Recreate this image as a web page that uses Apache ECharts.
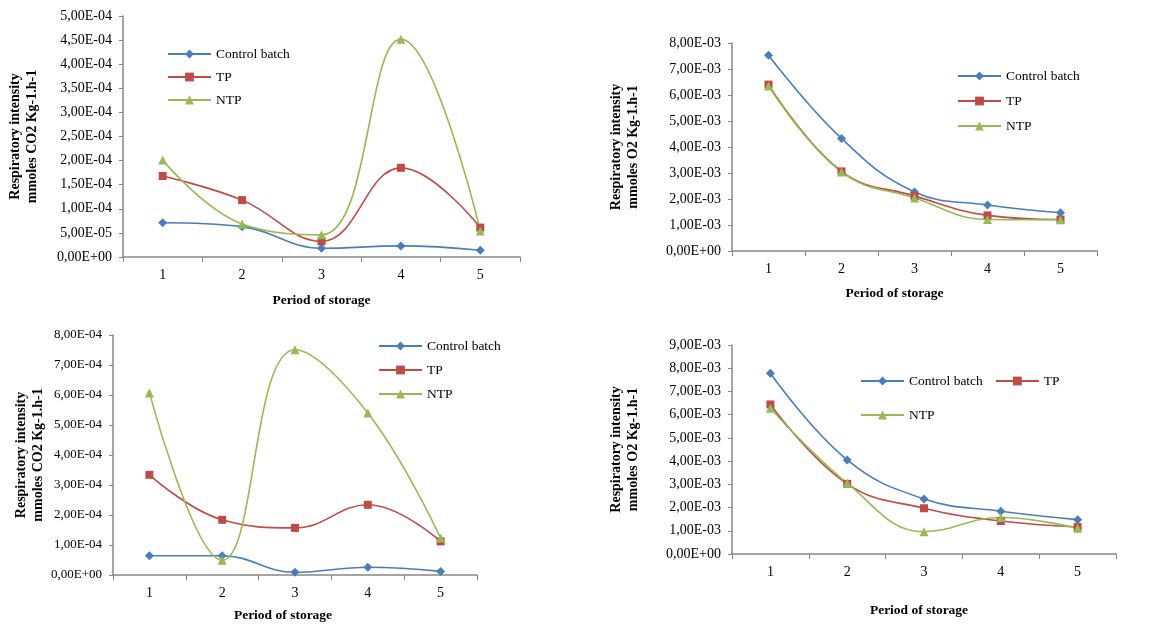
<!DOCTYPE html>
<html>
<head>
<meta charset="utf-8">
<script src="https://cdn.jsdelivr.net/npm/echarts@6/dist/echarts.min.js"></script>
<style>html,body{margin:0;padding:0;background:#fff}#c{width:1175px;height:625px}</style>
</head>
<body>
<div id="c"></div>
<script>
const categories = ['1', '2', '3', '4', '5'];
const seriesNames = ['Control batch', 'TP', 'NTP'];

const co2A_control = [7.1e-5, 6.3e-5, 1.8e-5, 2.3e-5, 1.4e-5];
const co2A_tp      = [1.68e-4, 1.18e-4, 3.25e-5, 1.85e-4, 6.1e-5];
const co2A_ntp     = [2.01e-4, 6.85e-5, 4.6e-5, 4.52e-4, 5.4e-5];

const o2A_control  = [7.53e-3, 4.33e-3, 2.27e-3, 1.77e-3, 1.47e-3];
const o2A_tp       = [6.40e-3, 3.06e-3, 2.12e-3, 1.37e-3, 1.21e-3];
const o2A_ntp      = [6.35e-3, 3.04e-3, 2.04e-3, 1.21e-3, 1.20e-3];

const co2B_control = [6.4e-5, 6.4e-5, 0.9e-5, 2.6e-5, 1.2e-5];
const co2B_tp      = [3.34e-4, 1.84e-4, 1.57e-4, 2.34e-4, 1.12e-4];
const co2B_ntp     = [6.07e-4, 4.9e-5, 7.51e-4, 5.40e-4, 1.23e-4];

const o2B_control  = [7.78e-3, 4.05e-3, 2.37e-3, 1.84e-3, 1.48e-3];
const o2B_tp       = [6.44e-3, 3.02e-3, 1.97e-3, 1.42e-3, 1.16e-3];
const o2B_ntp      = [6.28e-3, 3.05e-3, 0.96e-3, 1.57e-3, 1.11e-3];

const yMax      = [5e-4, 8e-3, 8e-4, 9e-3];
const yInterval = [5e-5, 1e-3, 1e-4, 1e-3];
const yTitles = [
  'Respiratory intensity\nmmoles CO2 Kg-1.h-1',
  'Respiratory intensity\nmmoles O2 Kg-1.h-1',
  'Respiratory intensity\nmmoles CO2 Kg-1.h-1',
  'Respiratory intensity\nmmoles O2 Kg-1.h-1'
];
const xTitle = 'Period of storage';

const panels = [
  [co2A_control, co2A_tp, co2A_ntp],
  [o2A_control, o2A_tp, o2A_ntp],
  [co2B_control, co2B_tp, co2B_ntp],
  [o2B_control, o2B_tp, o2B_ntp]
];

const FONT = "'Liberation Serif', 'Times New Roman', serif";
const AXC = '#868686';
const colors = ['#4A7EBB', '#BE4B48', '#98B954'];
const symbols = ['diamond', 'rect', 'triangle'];
const symSizes = [9, 8, 9];

function sci(v) {
  if (Math.abs(v) < 1e-15) return '0,00E+00';
  const s = v.toExponential(2);
  const parts = s.split('e');
  const n = parseInt(parts[1], 10);
  const a = Math.abs(n);
  return parts[0].replace('.', ',') + 'E' + (n < 0 ? '-' : '+') + (a < 10 ? '0' : '') + a;
}

const grids = [
  {left: 123, top: 16, width: 397, height: 241},
  {left: 732, top: 43, width: 365, height: 208},
  {left: 113, top: 335, width: 364, height: 240},
  {left: 732, top: 345, width: 384, height: 209}
];
const yNameGap = [82, 90, 65, 90];
const xNameGap = [37, 36, 34, 50];
const xNamePad = [[0, 0, 0, 0], [0, 40, 0, 0], [0, 24, 0, 0], [0, 10, 0, 0]];
const yLabelSize = [14, 14, 13, 14];

const option = {
  backgroundColor: '#fff',
  animation: false,
  grid: grids.map(g => Object.assign({containLabel: false}, g)),
  xAxis: grids.map((g, i) => ({
    type: 'category',
    gridIndex: i,
    data: categories,
    boundaryGap: true,
    axisLine: {lineStyle: {color: AXC, width: 1.5}},
    axisTick: {show: true, length: 5, lineStyle: {color: AXC, width: 1}},
    axisLabel: {color: '#000', fontFamily: FONT, fontSize: 14, margin: 11},
    splitLine: {show: false},
    name: xTitle,
    nameLocation: 'middle',
    nameGap: xNameGap[i],
    nameTextStyle: {color: '#000', fontFamily: FONT, fontWeight: 'bold', fontSize: 13.5, padding: xNamePad[i]}
  })),
  yAxis: grids.map((g, i) => ({
    type: 'value',
    gridIndex: i,
    min: 0,
    max: yMax[i],
    interval: yInterval[i],
    axisLine: {show: true, lineStyle: {color: AXC, width: 1.5}},
    axisTick: {show: true, length: 4, lineStyle: {color: AXC, width: 1}},
    axisLabel: {color: '#000', fontFamily: FONT, fontSize: yLabelSize[i], margin: 11, formatter: sci},
    splitLine: {show: false},
    name: yTitles[i],
    nameLocation: 'middle',
    nameRotate: 90,
    nameGap: yNameGap[i],
    nameTextStyle: {color: '#000', fontFamily: FONT, fontWeight: 'bold', fontSize: 14, lineHeight: 17}
  })),
  legend: [
    {left: 167, top: 46, orient: 'vertical', itemGap: 7},
    {left: 957, top: 68, orient: 'vertical', itemGap: 9},
    {left: 378, top: 338, orient: 'vertical', itemGap: 8},
    {left: 860, top: 373, orient: 'horizontal', itemGap: 12, data: ['Control batch', 'TP']},
    {left: 860, top: 407, orient: 'horizontal', itemGap: 12, data: ['NTP']}
  ].map(l => Object.assign({
    data: seriesNames,
    padding: 0,
    itemWidth: 43,
    itemHeight: 11,
    selectedMode: false,
    textStyle: {color: '#000', fontFamily: FONT, fontSize: 13.5, lineHeight: 16, padding: [0, 0, 0, 0]}
  }, l)),
  series: []
};

panels.forEach((vals, p) => {
  vals.forEach((arr, k) => {
    option.series.push({
      name: seriesNames[k],
      type: 'line',
      xAxisIndex: p,
      yAxisIndex: p,
      data: arr,
      smooth: 0.42,
      smoothConstraint: false,
      symbol: symbols[k],
      symbolSize: symSizes[k],
      showSymbol: true,
      color: colors[k],
      lineStyle: {color: colors[k], width: 1.6},
      itemStyle: {color: colors[k]}
    });
  });
});

const chart = echarts.init(document.getElementById('c'), null, {renderer: 'canvas'});
chart.setOption(option);
</script>
</body>
</html>
